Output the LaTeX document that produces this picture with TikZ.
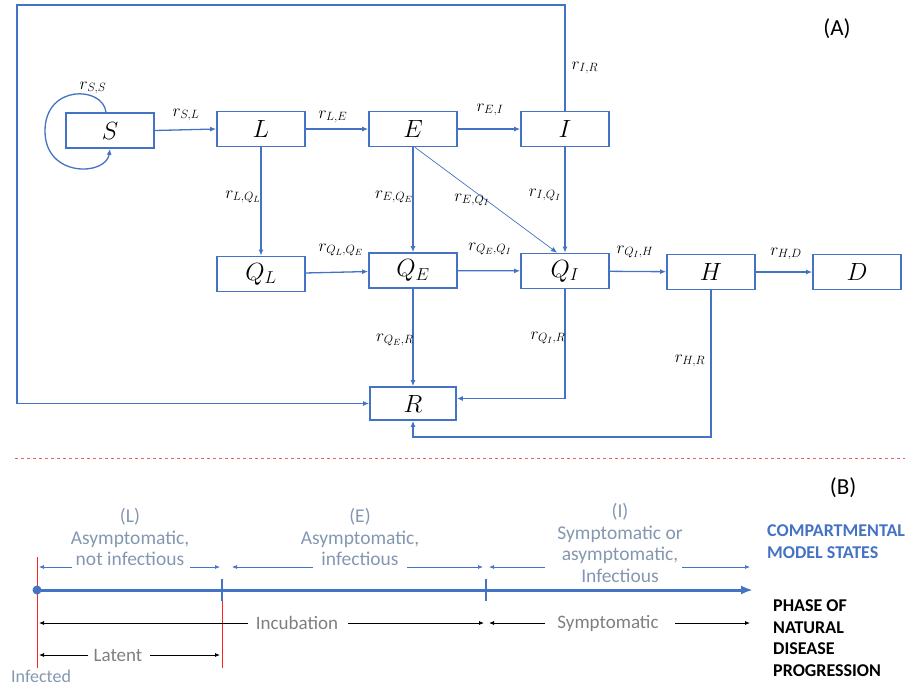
\documentclass[tikz,border=0pt]{standalone}
\usepackage{fontspec}
\setsansfont{Carlito}
\usetikzlibrary{arrows.meta}
\definecolor{bl}{HTML}{4472C4}
\definecolor{gtxt}{HTML}{8497B0}
\definecolor{gray7}{HTML}{7F7F7F}
\definecolor{redl}{HTML}{E06666}
\definecolor{redv}{HTML}{FF2020}
\begin{document}
\begin{tikzpicture}[x=1pt,y=-1pt,
  box/.style={draw=bl, line width=1.7pt, minimum width=88pt, minimum height=35pt, inner sep=0pt, font=\fontsize{24}{26}\selectfont},
  arr/.style={draw=bl, line width=1.3pt, -{Latex[length=6pt,width=5pt]}},
  thinarr/.style={draw=bl, line width=0.7pt, -{Latex[length=6pt,width=5pt]}},
  lab/.style={font=\fontsize{18.5}{20}\selectfont},
  tarr/.style={draw=bl, line width=0.7pt, -{Latex[length=5pt,width=4pt]}},
  karr/.style={draw=black, line width=0.8pt, -{Latex[length=5pt,width=4pt]}},
  btxt/.style={font=\sffamily\fontsize{19.5}{21.5}\selectfont, text=gtxt, align=center, inner sep=0pt},
  ktxt/.style={font=\sffamily\fontsize{19}{21}\selectfont, text=gray7, inner sep=0pt},
  captxt/.style={font=\sffamily\bfseries\fontsize{18}{21.5}\selectfont, align=left, inner sep=0pt, anchor=west}
]
\useasboundingbox (0,0) rectangle (912,681);

% ---------- (A) compartment model ----------
\node[box] (S) at (110,130.5) {$S$};
\node[box] (L) at (261,129) {$L$};
\node[box] (E) at (413,129) {$E$};
\node[box] (I) at (565,129) {$I$};
\node[box] (QL) at (261,274) {$Q_L$};
\node[box] (QE) at (413,270.5) {$Q_E$};
\node[box] (QI) at (565,271) {$Q_I$};
\node[box] (H) at (711,272) {$H$};
\node[box] (D) at (857,272) {$D$};
\node[box, minimum width=86pt, minimum height=33pt] (R) at (413,403.5) {$R$};

\coordinate (c1) at (565,5);
\coordinate (c2) at (17,5);
\coordinate (hr) at (711,437);

% self loop
\draw[arr] ([xshift=-4pt]S.north) .. controls (103,86) and (45,84) .. (45,131)
                     .. controls (45,178) and (106,176) .. (S.south);

\draw[arr] (S.east) -- (L.west);
\draw[arr] (L) -- (E);
\draw[arr] (E) -- (I);
\draw[arr] (L) -- (QL);
\draw[arr] (E) -- (QE);
\draw[arr] (I) -- (QI);
\draw[thinarr] ([xshift=2pt]E.south) -- ([xshift=-8pt]QI.north);
\draw[arr] (QL) -- (QE);
\draw[arr] (QE) -- (QI);
\draw[arr] (QI) -- (H);
\draw[arr] (H) -- (D);
\draw[arr] (QE) -- (R);
\draw[arr] (QI.south) |- ([yshift=5pt]R.east);
\draw[arr] (H.south) -- (hr) -| (R.south);
\draw[arr] (I.north) -- (c1) -- (c2) |- (R.west);

% rate labels
\node[lab] (lss) at (93,88) {$r_{S,S}$};
\node[lab] (lsl) at (186,115) {$r_{S,L}$};
\node[lab] (lle) at (333,117) {$r_{L,E}$};
\node[lab] (lei) at (490,110) {$r_{E,I}$};
\node[lab] (lir) at (585,68) {$r_{I,R}$};
\node[lab] (llq) at (243,197) {$r_{L,Q_L}$};
\node[lab] (leqe) at (394,197) {$r_{E,Q_E}$};
\node[lab] (leqi) at (472,200) {$r_{E,Q_I}$};
\node[lab] (liqi) at (545,195) {$r_{I,Q_I}$};
\node[lab] (lqlqe) at (341,250) {$r_{Q_L,Q_E}$};
\node[lab] (lqeqi) at (490,249) {$r_{Q_E,Q_I}$};
\node[lab] (lqih) at (635,252) {$r_{Q_I,H}$};
\node[lab] (lhd) at (786,254) {$r_{H,D}$};
\node[lab] (lqer) at (395,340) {$r_{Q_E,R}$};
\node[lab] (lqir) at (548,338) {$r_{Q_I,R}$};
\node[lab] (lhr) at (690,361) {$r_{H,R}$};

\node[font=\sffamily\fontsize{23}{25}\selectfont] (A) at (837,29) {(A)};

% separator
\draw[redl, line width=1pt, dash pattern=on 3pt off 3pt] (15,458) -- (905,458);

% ---------- (B) timeline ----------
\node[font=\sffamily\fontsize{23}{25}\selectfont] (B) at (843,488) {(B)};

\coordinate (t0) at (37,590);
\coordinate (t1) at (222,590);
\coordinate (t2) at (486,590);
\coordinate (tend) at (753,590);

\draw[redv, line width=0.9pt] (37,557) -- (37,668);
\draw[redv, line width=0.9pt] (222,582) -- (222,668);

\draw[bl, line width=3pt, -{Latex[length=12pt,width=9pt]}] (t0) -- (tend);
\fill[bl] (t0) circle (4.5);
\draw[bl, line width=2pt] (222,579) -- (222,601);
\draw[bl, line width=2pt] (486,579) -- (486,601);

\node[btxt] (tL) at (130,537) {(L)\\Asymptomatic,\\not infectious};
\node[btxt] (tE) at (360,537) {(E)\\Asymptomatic,\\infectious};
\node[btxt] (tI) at (620,543) {(I)\\Symptomatic or\\asymptomatic,\\Infectious};

\draw[tarr] (72,567) -- (39,567);
\draw[tarr] (190,567) -- (220,567);
\draw[tarr] (313,567) -- (232,567);
\draw[tarr] (407,567) -- (483,567);
\draw[tarr] (545,567) -- (489,567);
\draw[tarr] (682,567) -- (750,567);

\node[ktxt] (inc) at (297,623) {Incubation};
\node[ktxt] (sym) at (608,623) {Symptomatic};
\node[ktxt] (lat) at (118,655) {Latent};
\draw[karr] (248,623) -- (39,623);
\draw[karr] (348,623) -- (484,623);
\draw[karr] (545,623) -- (489,623);
\draw[karr] (675,623) -- (750,623);
\draw[karr] (88,655) -- (39,655);
\draw[karr] (150,655) -- (220,655);

\node[captxt, text=bl] (cms) at (767,541.5) {COMPARTMENTAL\\MODEL STATES};
\node[captxt, text=black] (ph) at (773,638) {PHASE OF\\NATURAL\\DISEASE\\PROGRESSION};

\node[font=\sffamily\fontsize{18}{20}\selectfont, text=gtxt, anchor=north west, inner sep=0pt] (inf) at (11,670) {Infected};
\end{tikzpicture}
\end{document}
